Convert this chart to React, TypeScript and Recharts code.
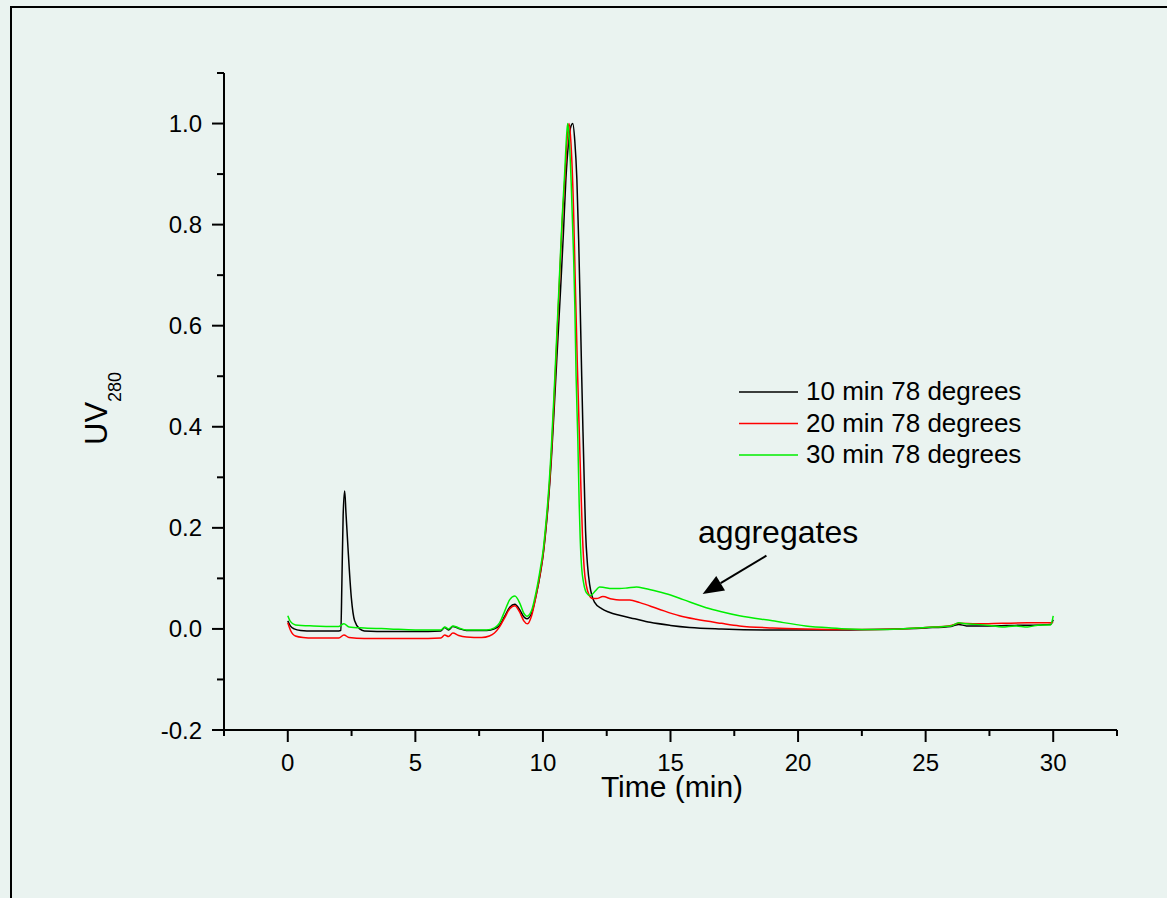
import React from "react"
import {
  LineChart,
  Line,
  XAxis,
  YAxis,
  Legend,
  ReferenceLine,
  ReferenceDot,
} from "recharts"

// 10 min at 78 degrees
const time10 = [0, 0.1, 0.25, 0.5, 1, 1.5, 2.0, 2.08, 2.12, 2.17, 2.23, 2.28, 2.36, 2.49, 2.62, 2.82, 3.0, 4, 5, 6.0, 6.15, 6.3, 6.47, 6.7, 7.0, 7.8, 8.1, 8.3, 8.5, 8.7, 8.9, 9.1, 9.25, 9.37, 9.55, 9.74, 9.9, 10.0, 10.1, 10.2, 10.33, 10.43, 10.55, 10.69, 10.8, 10.9, 11.0, 11.1, 11.17, 11.25, 11.33, 11.4, 11.46, 11.52, 11.57, 11.62, 11.67, 11.75, 11.83, 11.92, 12.02, 12.3, 12.6, 13.0, 13.6, 14.2, 15.0, 15.75, 17, 19, 21, 23, 25, 26, 26.3, 26.6, 27.5, 28.5, 29.5, 29.9, 30]
const uv10 = [0.016, 0.006, 0.0, -0.003, -0.004, -0.004, -0.004, -0.003, 0.09, 0.225, 0.273, 0.23, 0.16, 0.062, 0.016, 0.0, -0.004, -0.005, -0.005, -0.004, 0.003, -0.002, 0.005, 0.001, -0.003, -0.003, 0.0, 0.007, 0.025, 0.043, 0.049, 0.037, 0.024, 0.02, 0.03, 0.068, 0.11, 0.143, 0.188, 0.243, 0.335, 0.425, 0.54, 0.67, 0.78, 0.89, 0.96, 0.995, 1.0, 0.965, 0.89, 0.77, 0.64, 0.5, 0.39, 0.29, 0.195, 0.125, 0.088, 0.066, 0.053, 0.04, 0.033, 0.027, 0.02, 0.013, 0.007, 0.003, 0.0, -0.002, -0.002, -0.001, 0.002, 0.005, 0.009, 0.006, 0.006, 0.007, 0.008, 0.009, 0.018]

// 20 min at 78 degrees
const time20 = [0, 0.1, 0.3, 0.6, 1.0, 2.0, 2.2, 2.4, 3, 4, 5, 6.0, 6.15, 6.3, 6.47, 6.7, 7.0, 7.6, 7.9, 8.1, 8.3, 8.5, 8.7, 8.9, 9.1, 9.25, 9.4, 9.55, 9.74, 9.9, 10.0, 10.1, 10.2, 10.33, 10.43, 10.55, 10.65, 10.75, 10.87, 10.95, 11.02, 11.1, 11.2, 11.28, 11.35, 11.43, 11.5, 11.55, 11.62, 11.7, 11.8, 11.94, 12.1, 12.35, 12.7, 13.0, 13.4, 13.8, 14.5, 15.35, 16, 17, 17.7, 19, 20.3, 22, 24, 25, 26, 26.3, 27, 28, 29, 29.9, 30]
const uv20 = [0.012, -0.002, -0.014, -0.017, -0.018, -0.018, -0.012, -0.017, -0.019, -0.019, -0.019, -0.018, -0.012, -0.015, -0.008, -0.013, -0.016, -0.017, -0.014, -0.008, 0.004, 0.022, 0.04, 0.046, 0.032, 0.016, 0.01, 0.025, 0.068, 0.112, 0.145, 0.192, 0.248, 0.345, 0.445, 0.575, 0.69, 0.8, 0.9, 0.97, 1.0, 0.96, 0.83, 0.66, 0.52, 0.38, 0.26, 0.185, 0.118, 0.086, 0.068, 0.06, 0.06, 0.064, 0.059, 0.057, 0.057, 0.052, 0.04, 0.026, 0.019, 0.011, 0.006, 0.002, 0.0, -0.001, 0.0, 0.003, 0.007, 0.011, 0.01, 0.011, 0.012, 0.012, 0.013]

// 30 min at 78 degrees
const time30 = [0, 0.1, 0.3, 1.0, 2.0, 2.2, 2.4, 3, 4, 5, 6.0, 6.15, 6.3, 6.47, 6.7, 7.0, 7.8, 8.1, 8.3, 8.5, 8.7, 8.9, 9.1, 9.25, 9.37, 9.55, 9.74, 9.9, 10.0, 10.1, 10.2, 10.33, 10.43, 10.55, 10.65, 10.75, 10.85, 10.92, 10.97, 11.03, 11.11, 11.2, 11.25, 11.3, 11.37, 11.42, 11.46, 11.52, 11.58, 11.67, 11.77, 11.87, 12.05, 12.22, 12.4, 12.7, 13.0, 13.3, 13.67, 14.0, 14.5, 15.0, 15.5, 16.4, 17.0, 17.7, 19.0, 20.3, 21.3, 22, 23, 24, 25, 26, 26.3, 26.6, 27, 27.5, 28, 28.5, 29, 29.5, 29.9, 30]
const uv30 = [0.026, 0.015, 0.008, 0.006, 0.005, 0.01, 0.004, 0.002, 0.0, -0.002, -0.002, 0.004, 0.0, 0.006, 0.002, -0.002, -0.002, 0.002, 0.012, 0.035, 0.058, 0.065, 0.05, 0.031, 0.025, 0.036, 0.075, 0.12, 0.152, 0.2, 0.258, 0.36, 0.46, 0.59, 0.7, 0.81, 0.9, 0.97, 1.0, 0.97, 0.88, 0.74, 0.64, 0.5, 0.37, 0.25, 0.18, 0.12, 0.095, 0.075, 0.068, 0.066, 0.075, 0.083, 0.082, 0.08, 0.08, 0.081, 0.083, 0.08, 0.074, 0.067, 0.058, 0.042, 0.034, 0.026, 0.016, 0.006, 0.002, 0.0, -0.001, 0.0, 0.003, 0.006, 0.012, 0.01, 0.009, 0.007, 0.004, 0.006, 0.004, 0.008, 0.008, 0.026]

const xTicks = [-2.5, 0, 2.5, 5, 7.5, 10, 12.5, 15, 17.5, 20, 22.5, 25, 27.5, 30, 32.5]
const xMajor = [0, 5, 10, 15, 20, 25, 30]
const yTicks = [-0.2, -0.1, 0, 0.1, 0.2, 0.3, 0.4, 0.5, 0.6, 0.7, 0.8, 0.9, 1.0, 1.1]
const yMajor = [-0.2, 0, 0.2, 0.4, 0.6, 0.8, 1.0]

const FONT = "Arial, 'Liberation Sans', sans-serif"

const zip = (ts: number[], vs: number[]) => ts.map((t, i) => ({ t, v: vs[i] }))
const series = [
  { name: "10 min 78 degrees", color: "#000000", data: zip(time10, uv10) },
  { name: "20 min 78 degrees", color: "#ff0000", data: zip(time20, uv20) },
  { name: "30 min 78 degrees", color: "#00ee00", data: zip(time30, uv30) },
]

// annotation anchors (data coordinates)
const arrowFrom = { x: 18.76, y: 0.145 }
const arrowTo = { x: 16.26, y: 0.069 }
const noteAt = { x: 16.08, y: 0.17 }

const XTick = (props: any) => {
  const { x, y, payload } = props
  const major = xMajor.includes(payload.value)
  return (
    <g>
      <line x1={x} y1={y} x2={x} y2={y + (major ? 12 : 6)} stroke="#000" strokeWidth={2} />
      {major && (
        <text x={x} y={y + 41} textAnchor="middle" fontSize={24} fontFamily={FONT} fill="#000">
          {payload.value}
        </text>
      )}
    </g>
  )
}

const YTick = (props: any) => {
  const { x, y, payload } = props
  const major = yMajor.includes(payload.value)
  return (
    <g>
      <line x1={x - (major ? 12 : 7)} y1={y} x2={x} y2={y} stroke="#000" strokeWidth={2} />
      {major && (
        <text x={x - 22} y={y + 8.5} textAnchor="end" fontSize={24} fontFamily={FONT} fill="#000">
          {payload.value.toFixed(1)}
        </text>
      )}
    </g>
  )
}

const XTitle = () => (
  <text x={672} y={797} textAnchor="middle" fontSize={30} fontFamily={FONT} fill="#000">
    Time (min)
  </text>
)

const YTitle = () => (
  <text
    x={107}
    y={445}
    transform="rotate(-90, 107, 445)"
    fontSize={31}
    fontFamily={FONT}
    fill="#000"
  >
    UV
    <tspan dy={14} fontSize={18}>280</tspan>
  </text>
)

const Arrow = (props: any) => {
  const { x1, y1, x2, y2 } = props
  const dx = x2 - x1
  const dy = y2 - y1
  const len = Math.sqrt(dx * dx + dy * dy) || 1
  const ux = dx / len
  const uy = dy / len
  const bx = x2 - ux * 21
  const by = y2 - uy * 21
  return (
    <g>
      <line x1={x1} y1={y1} x2={bx} y2={by} stroke="#000" strokeWidth={2} />
      <polygon
        points={`${x2},${y2} ${bx - uy * 8.5},${by + ux * 8.5} ${bx + uy * 8.5},${by - ux * 8.5}`}
        fill="#000"
      />
    </g>
  )
}

const Note = (props: any) => (
  <text x={props.cx} y={props.cy} fontSize={32} fontFamily={FONT} fill="#000">
    aggregates
  </text>
)

const LegendBox = (props: any) => {
  const payload = props.payload || []
  return (
    <svg width={320} height={100}>
      {payload.map((e: any, i: number) => (
        <g key={i}>
          <line x1={9} x2={68} y1={22 + i * 31.5} y2={22 + i * 31.5} stroke={e.color} strokeWidth={1.5} />
          <text x={76} y={30 + i * 31.5} fontSize={26} fontFamily={FONT} fill="#000">
            {e.value}
          </text>
        </g>
      ))}
    </svg>
  )
}

export default function App() {
  return (
    <div
      style={{
        position: "absolute",
        left: 0,
        top: 0,
        width: 1167,
        height: 898,
        background: "#eaf3f0",
        overflow: "hidden",
        fontFamily: FONT,
      }}
    >
      <div
        style={{
          position: "absolute",
          left: 10,
          top: 6,
          width: 1200,
          height: 950,
          border: "2px solid #000",
        }}
      />
      <div style={{ position: "absolute", left: 0, top: 0 }}>
        <LineChart width={1167} height={898} margin={{ top: 73, right: 50, bottom: 0, left: 0 }}>
          <XAxis
            type="number"
            dataKey="t"
            domain={[-2.5, 32.5]}
            ticks={xTicks}
            interval={0}
            height={168}
            tickSize={0}
            tickMargin={0}
            tickLine={false}
            axisLine={{ stroke: "#000", strokeWidth: 2 }}
            tick={<XTick />}
            label={XTitle}
            allowDataOverflow
          />
          <YAxis
            type="number"
            dataKey="v"
            domain={[-0.2, 1.1]}
            ticks={yTicks}
            interval={0}
            width={224}
            tickSize={0}
            tickMargin={0}
            tickLine={false}
            axisLine={{ stroke: "#000", strokeWidth: 2 }}
            tick={<YTick />}
            label={YTitle}
            allowDataOverflow
          />
          {series.map((s) => (
            <Line
              key={s.name}
              data={s.data}
              dataKey="v"
              name={s.name}
              type="monotone"
              stroke={s.color}
              strokeWidth={1.5}
              dot={false}
              activeDot={false}
              isAnimationActive={false}
            />
          ))}
          <ReferenceLine segment={[arrowFrom, arrowTo]} shape={Arrow} />
          <ReferenceDot x={noteAt.x} y={noteAt.y} r={0} shape={Note} />
          <Legend
            layout="horizontal"
            verticalAlign="middle"
            align="center"
            content={LegendBox}
            wrapperStyle={{ left: 730, top: 370, width: 320, height: 100 }}
          />
        </LineChart>
      </div>
    </div>
  )
}
